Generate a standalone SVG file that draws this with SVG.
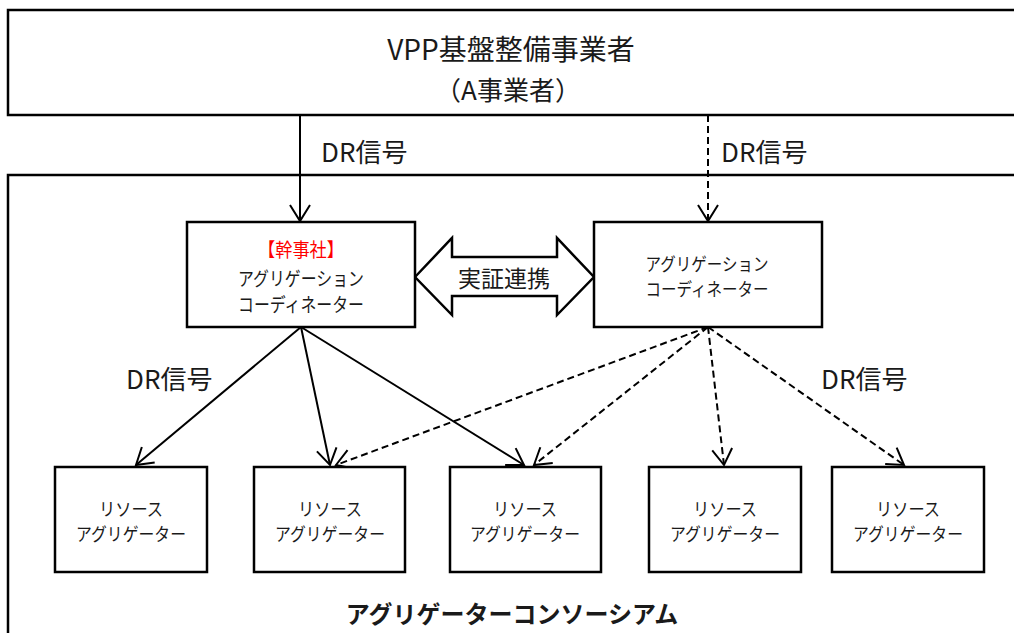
<svg xmlns="http://www.w3.org/2000/svg" width="1014" height="633" viewBox="0 0 1014 633">
<style>
.box{fill:#fff;stroke:#000;stroke-width:2.5}
.frame{fill:none;stroke:#000;stroke-width:2.5}
.t{font-family:"Noto Sans CJK JP","Noto Sans",sans-serif;fill:#1a1a1a;text-anchor:middle;dominant-baseline:central}
.lbl{font-family:"Noto Sans CJK JP","Noto Sans",sans-serif;fill:#1a1a1a;dominant-baseline:central;font-size:26px}
.s{stroke:#000;stroke-width:2;fill:none}
.d{stroke:#000;stroke-width:2;fill:none;stroke-dasharray:7,4}
.red{fill:#ff0000}
</style>
<defs>
<marker id="v" markerUnits="userSpaceOnUse" viewBox="-18 -12 20 24" refX="0" refY="0" markerWidth="20" markerHeight="24" orient="auto">
<path d="M-16,-10 L0,0 L-16,10" fill="none" stroke="#000" stroke-width="2"/>
</marker>
</defs>
<g id="consortium">
<rect class="frame" x="8" y="175" width="1020" height="470"/>
<text class="t" x="512" y="612" font-size="24" font-weight="bold" fill="#000">アグリゲーターコンソーシアム</text>
</g>
<g id="vpp">
<rect class="box" x="8" y="10" width="1020" height="105"/>
<text class="t" x="511" y="48" font-size="28">VPP基盤整備事業者</text>
<text class="t" x="508" y="88" font-size="26">（A事業者）</text>
</g>
<g id="connectors">
<line class="s" x1="300" y1="115" x2="300" y2="221" marker-end="url(#v)"/>
<line class="d" x1="708" y1="115" x2="708" y2="221" marker-end="url(#v)"/>
<line class="s" x1="301" y1="327" x2="136" y2="465" marker-end="url(#v)"/>
<line class="s" x1="301" y1="327" x2="330" y2="465" marker-end="url(#v)"/>
<line class="s" x1="301" y1="327" x2="524" y2="465" marker-end="url(#v)"/>
<line class="d" x1="708" y1="327" x2="336" y2="465" marker-end="url(#v)"/>
<line class="d" x1="708" y1="327" x2="534" y2="465" marker-end="url(#v)"/>
<line class="d" x1="708" y1="327" x2="724" y2="465" marker-end="url(#v)"/>
<line class="d" x1="708" y1="327" x2="904" y2="465" marker-end="url(#v)"/>
<text class="lbl" x="321" y="150">DR信号</text>
<text class="lbl" x="721" y="150">DR信号</text>
<text class="lbl" x="126" y="377">DR信号</text>
<text class="lbl" x="821" y="377">DR信号</text>
</g>
<g id="link">
<polygon points="415,277 452,238 452,257 557,257 557,238 594,277 557,315 557,296 452,296 452,315" fill="#fff" stroke="#000" stroke-width="2.5" stroke-linejoin="miter"/>
<text class="t" x="504" y="277" font-size="23">実証連携</text>
</g>
<g id="coord-main">
<rect class="box" x="187" y="222" width="228" height="105"/>
<text class="t red" x="301" y="248" font-size="19" textLength="86" lengthAdjust="spacingAndGlyphs">【幹事社】</text>
<text class="t" x="301" y="277" font-size="19" textLength="126" lengthAdjust="spacingAndGlyphs">アグリゲーション</text>
<text class="t" x="301" y="303" font-size="19" textLength="126" lengthAdjust="spacingAndGlyphs">コーディネーター</text>
</g>
<g id="coord-sub">
<rect class="box" x="594" y="222" width="228" height="105"/>
<text class="t" x="707" y="263" font-size="18" textLength="123" lengthAdjust="spacingAndGlyphs">アグリゲーション</text>
<text class="t" x="707" y="288" font-size="18" textLength="123" lengthAdjust="spacingAndGlyphs">コーディネーター</text>
</g>
<g id="ra1">
<rect class="box" x="55" y="467" width="152" height="105"/>
<text class="t" x="131" y="508" font-size="18" textLength="64" lengthAdjust="spacingAndGlyphs">リソース</text>
<text class="t" x="131" y="533" font-size="18" textLength="110" lengthAdjust="spacingAndGlyphs">アグリゲーター</text>
</g>
<g id="ra2">
<rect class="box" x="254" y="467" width="151" height="105"/>
<text class="t" x="330" y="508" font-size="18" textLength="64" lengthAdjust="spacingAndGlyphs">リソース</text>
<text class="t" x="330" y="533" font-size="18" textLength="110" lengthAdjust="spacingAndGlyphs">アグリゲーター</text>
</g>
<g id="ra3">
<rect class="box" x="450" y="467" width="151" height="105"/>
<text class="t" x="525" y="508" font-size="18" textLength="64" lengthAdjust="spacingAndGlyphs">リソース</text>
<text class="t" x="525" y="533" font-size="18" textLength="110" lengthAdjust="spacingAndGlyphs">アグリゲーター</text>
</g>
<g id="ra4">
<rect class="box" x="649" y="467" width="152" height="105"/>
<text class="t" x="725" y="508" font-size="18" textLength="64" lengthAdjust="spacingAndGlyphs">リソース</text>
<text class="t" x="725" y="533" font-size="18" textLength="110" lengthAdjust="spacingAndGlyphs">アグリゲーター</text>
</g>
<g id="ra5">
<rect class="box" x="832" y="467" width="152" height="105"/>
<text class="t" x="908" y="508" font-size="18" textLength="64" lengthAdjust="spacingAndGlyphs">リソース</text>
<text class="t" x="908" y="533" font-size="18" textLength="110" lengthAdjust="spacingAndGlyphs">アグリゲーター</text>
</g>
</svg>
